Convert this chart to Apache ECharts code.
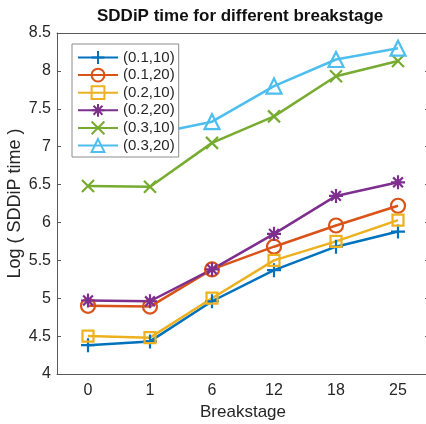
<!DOCTYPE html>
<html>
<head>
<meta charset="utf-8">
<script src="https://cdn.jsdelivr.net/npm/echarts@6/dist/echarts.min.js"></script>
<style>
  html, body { margin: 0; padding: 0; background: #fff; }
  #main { width: 426px; height: 424px; }
</style>
</head>
<body>
<div id="main"></div>
<script>
const breakstages = ["0", "1", "6", "12", "18", "25"];
const yTicks = [4, 4.5, 5, 5.5, 6, 6.5, 7, 7.5, 8, 8.5];

const s01_10 = [4.38, 4.43, 4.96, 5.37, 5.68, 5.88];
const s01_20 = [4.9, 4.89, 5.38, 5.68, 5.96, 6.22];
const s02_10 = [4.5, 4.48, 5.0, 5.5, 5.75, 6.03];
const s02_20 = [4.97, 4.96, 5.38, 5.85, 6.35, 6.53];
const s03_10 = [6.48, 6.47, 7.05, 7.4, 7.93, 8.13];
const s03_20 = [7.1, 7.16, 7.33, 7.8, 8.15, 8.3];

const PLUS = "path://M5,0L5,10M0,5L10,5";
const CROSS = "path://M0,0L10,10M10,0L0,10";
const STAR = "path://M5,0L5,10M0,5L10,5M1.5,1.5L8.5,8.5M8.5,1.5L1.5,8.5";

const textColor = "#262626";
const axisColor = "#595959";
const font = "'Liberation Sans', Arial, sans-serif";

function makeSeries(name, data, color, symbol, size) {
  return {
    name: name,
    type: "line",
    data: data,
    symbol: symbol,
    symbolSize: size,
    symbolKeepAspect: true,
    lineStyle: { color: color, width: 2.5 },
    itemStyle: { color: "transparent", borderColor: color, borderWidth: 2.2 },
    emphasis: { disabled: true },
    animation: false,
    z: 3
  };
}

const chart = echarts.init(document.getElementById("main"));
chart.setOption({
  animation: false,
  title: {
    text: "SDDiP time for different breakstage",
    left: 97,
    top: 8,
    padding: 0,
    textStyle: { fontFamily: font, fontSize: 17, fontWeight: "bold", color: "#111" }
  },
  legend: {
    orient: "vertical",
    left: 72,
    top: 44,
    padding: [6, 4, 4, 5],
    itemWidth: 40,
    itemHeight: 16,
    itemGap: 2.6,
    backgroundColor: "#fff",
    borderColor: "#8c8c8c",
    borderWidth: 1,
    borderRadius: 0,
    textStyle: { fontFamily: font, fontSize: 15, color: textColor },
    z: 10
  },
  grid: { left: 57, right: -3, top: 33, bottom: 50, outerBoundsMode: "none", containLabel: false },
  xAxis: [
    {
      type: "category",
      data: breakstages,
      boundaryGap: true,
      name: "Breakstage",
      nameLocation: "middle",
      nameGap: 30,
      nameMoveOverlap: false,
      nameTextStyle: { fontFamily: font, fontSize: 17, color: textColor },
      axisLine: { lineStyle: { color: axisColor, width: 1 } },
      axisTick: { inside: true, alignWithLabel: true, length: 4, lineStyle: { color: axisColor } },
      axisLabel: { fontFamily: font, fontSize: 16, color: textColor, margin: 9 },
      splitLine: { show: false }
    },
    {
      type: "category",
      data: breakstages,
      position: "top",
      boundaryGap: true,
      axisLine: { lineStyle: { color: axisColor, width: 1 } },
      axisTick: { inside: true, alignWithLabel: true, length: 4, lineStyle: { color: axisColor } },
      axisLabel: { show: false },
      splitLine: { show: false }
    }
  ],
  yAxis: [
    {
      type: "value",
      min: yTicks[0],
      max: yTicks[yTicks.length - 1],
      interval: 0.5,
      name: "Log ( SDDiP time )",
      nameLocation: "middle",
      nameGap: 33,
      nameMoveOverlap: false,
      nameTextStyle: { fontFamily: font, fontSize: 18, color: textColor },
      axisLine: { show: true, lineStyle: { color: axisColor, width: 1 } },
      axisTick: { show: true, inside: true, length: 4, lineStyle: { color: axisColor } },
      axisLabel: { fontFamily: font, fontSize: 16, color: textColor, margin: 6 },
      splitLine: { show: false }
    },
    {
      type: "value",
      position: "right",
      min: yTicks[0],
      max: yTicks[yTicks.length - 1],
      interval: 0.5,
      axisLine: { show: true, lineStyle: { color: axisColor, width: 1 } },
      axisTick: { show: true, inside: true, length: 4, lineStyle: { color: axisColor } },
      axisLabel: { show: false },
      splitLine: { show: false }
    }
  ],
  series: [
    makeSeries("(0.1,10)", s01_10, "#0072BD", PLUS, 14),
    makeSeries("(0.1,20)", s01_20, "#D95319", "circle", 14),
    makeSeries("(0.2,10)", s02_10, "#EDB120", "rect", 11),
    makeSeries("(0.2,20)", s02_20, "#7E2F8E", STAR, 14),
    makeSeries("(0.3,10)", s03_10, "#77AC30", CROSS, 12),
    makeSeries("(0.3,20)", s03_20, "#4DBEEE", "triangle", 15)
  ]
});
</script>
</body>
</html>
